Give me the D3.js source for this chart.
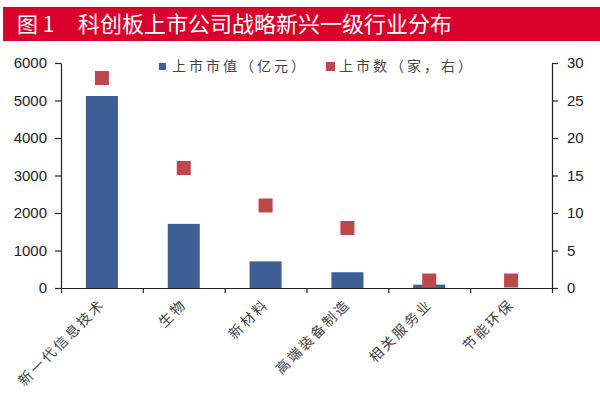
<!DOCTYPE html>
<html lang="zh">
<head>
<meta charset="utf-8">
<title>科创板上市公司战略新兴一级行业分布</title>
<script src="https://cdn.jsdelivr.net/npm/d3@7"></script>
<style>
  body { margin: 0; background: #fff; }
</style>
</head>
<body>
<svg id="chart" width="600" height="395"></svg>
<script>
// data
var categories = ["新一代信息技术", "生物", "新材料", "高端装备制造", "相关服务业", "节能环保"];
var marketCap = [5120, 1710, 710, 420, 90, 0];   // 上市市值（亿元）, left axis
var listedCount = [28, 16, 11, 8, 1, 1];           // 上市数（家）, right axis
var leftTicks = [0, 1000, 2000, 3000, 4000, 5000, 6000];
var rightTicks = [0, 5, 10, 15, 20, 25, 30];

var svg = d3.select("#chart");
var cjk = "'Noto Sans CJK SC', sans-serif";

// title band
svg.append("rect").attr("x", 3).attr("y", 7).attr("width", 597).attr("height", 34).attr("fill", "#D9002B");
svg.append("text").attr("x", 17).attr("y", 32).attr("fill", "#fff")
  .style("font", "21px " + cjk)
  .text("图 1");
svg.append("text").attr("x", 78).attr("y", 32).attr("fill", "#fff")
  .style("font", "22px " + cjk)
  .text("科创板上市公司战略新兴一级行业分布");

// scales
var plotLeft = 61, plotRight = 552, plotTop = 63, plotBottom = 288;
var x = d3.scaleBand().domain(categories).range([plotLeft, plotRight]);
var yL = d3.scaleLinear().domain([0, 6000]).range([plotBottom, plotTop]);
var yR = d3.scaleLinear().domain([0, 30]).range([plotBottom, plotTop]);

// bars
var barW = 32;
svg.selectAll(".bar").data(categories).enter().append("rect")
  .attr("x", function(d){ return x(d) + x.bandwidth()/2 - barW/2; })
  .attr("y", function(d, i){ return yL(marketCap[i]); })
  .attr("width", barW)
  .attr("height", function(d, i){ return plotBottom - yL(marketCap[i]); })
  .attr("fill", "#3D5F95");

// markers
var sq = 14;
svg.selectAll(".mk").data(categories).enter().append("rect")
  .attr("x", function(d){ return x(d) + x.bandwidth()/2 - sq/2; })
  .attr("y", function(d, i){ return yR(listedCount[i]) - sq/2; })
  .attr("width", sq).attr("height", sq)
  .attr("fill", "#BC474D");

// axes
var numFont = "15px 'Liberation Sans', Arial, sans-serif";
var axisL = svg.append("g").attr("transform", "translate(" + plotLeft + ",0)")
  .call(d3.axisLeft(yL).tickValues(leftTicks).tickFormat(d3.format("d")).tickSize(6).tickSizeOuter(0));
var axisR = svg.append("g").attr("transform", "translate(" + plotRight + ",0)")
  .call(d3.axisRight(yR).tickValues(rightTicks).tickFormat(d3.format("d")).tickSize(6).tickSizeOuter(0));
var axisB = svg.append("g").attr("transform", "translate(0," + plotBottom + ")")
  .call(d3.axisBottom(d3.scaleLinear().domain([0, categories.length]).range([plotLeft, plotRight]))
    .ticks(categories.length).tickSize(5).tickSizeOuter(0).tickFormat(""));

[axisL, axisR, axisB].forEach(function(a){
  a.selectAll("path, line").attr("stroke", "#222").attr("stroke-width", 1.2);
});
axisL.selectAll("text").style("font", numFont).attr("fill", "#222").attr("x", -14);
axisR.selectAll("text").style("font", numFont).attr("fill", "#222").attr("x", 15);

// category labels
svg.selectAll(".cat").data(categories).enter().append("text")
  .attr("transform", function(d){
    return "translate(" + (x(d) + x.bandwidth()/2 + 4) + "," + (plotBottom + 17) + ") rotate(-45)";
  })
  .attr("text-anchor", "end")
  .attr("fill", "#444")
  .style("font", "14px " + cjk)
  .style("letter-spacing", "2.5px")
  .text(function(d){ return d; });

// legend
svg.append("rect").attr("x", 159).attr("y", 63).attr("width", 7).attr("height", 7).attr("fill", "#3D5F95");
svg.append("text").attr("x", 172).attr("y", 71).attr("fill", "#444")
  .style("font", "14px " + cjk).style("letter-spacing", "3px").text("上市市值（亿元）");
svg.append("rect").attr("x", 326).attr("y", 62).attr("width", 9).attr("height", 9).attr("fill", "#BC474D");
svg.append("text").attr("x", 339).attr("y", 71).attr("fill", "#444")
  .style("font", "14px " + cjk).style("letter-spacing", "3px").text("上市数（家，右）");
</script>
</body>
</html>
